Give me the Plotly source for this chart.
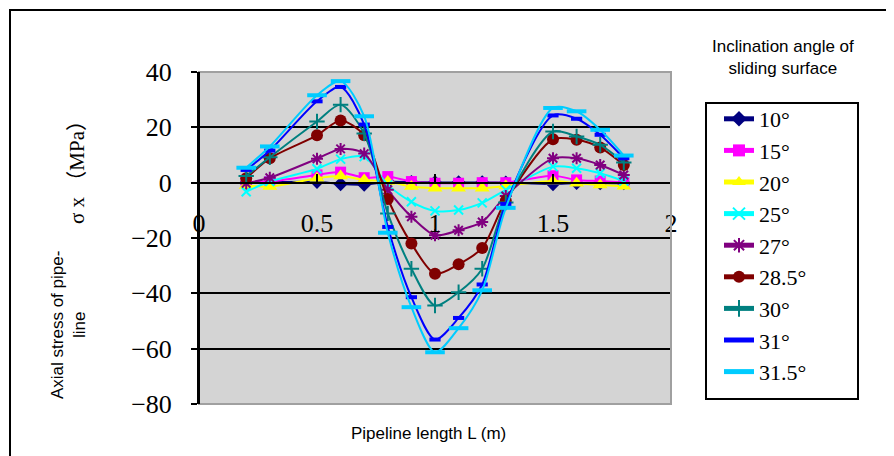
import plotly.graph_objects as go

# Pipeline length L (m)
x_vals = [0.2, 0.3, 0.5, 0.6, 0.7, 0.8, 0.9, 1.0, 1.1, 1.2, 1.3, 1.5, 1.6, 1.7, 1.8]

# Axial stress sigma_x (MPa) for each inclination angle
s10 = [0.0, 0.2, 0.3, -0.5, -0.7, 0.3, 0.2, 0.1, 0.1, 0.1, 0.0, -0.5, -0.1, -0.2, -0.2]
s15 = [0.2, 0.4, 2.8, 3.8, 1.8, 2.2, 0.4, -0.2, -0.2, 0.0, 0.0, 2.5, 1.0, 0.6, 0.1]
s20 = [-1.0, -1.4, 1.6, 2.4, 1.0, 0.4, -1.4, -2.0, -2.0, -2.0, -1.2, 0.6, -0.2, -0.8, -1.3]
s25 = [-3.3, 0.4, 5.0, 8.5, 9.4, -0.8, -6.9, -10.2, -9.9, -7.3, -2.6, 5.8, 5.2, 3.4, 0.6]
s27 = [-0.2, 1.8, 8.6, 12.2, 10.5, -2.6, -12.3, -19.0, -17.2, -14.2, -4.8, 8.8, 8.8, 6.4, 2.8]
s285 = [1.6, 8.8, 17.1, 22.5, 17.1, -5.9, -22.0, -32.9, -29.5, -23.6, -6.5, 15.7, 15.5, 12.7, 6.4]
s30 = [2.4, 9.2, 22.1, 28.2, 17.8, -11.1, -31.1, -44.4, -39.6, -31.1, -7.2, 18.5, 16.7, 13.7, 7.3]
s31 = [4.6, 11.6, 29.4, 34.6, 21.0, -16.0, -41.4, -56.7, -48.9, -36.8, -7.7, 24.3, 23.1, 17.3, 8.8]
s315 = [5.4, 13.1, 31.6, 36.7, 24.0, -18.1, -45.0, -61.3, -52.6, -38.9, -9.1, 27.0, 25.8, 19.1, 9.8]

series_names = ["10°", "15°", "20°", "25°", "27°", "28.5°", "30°", "31°", "31.5°"]
series_values = [s10, s15, s20, s25, s27, s285, s30, s31, s315]

y_ticks = [-80, -60, -40, -20, 0, 20, 40]
x_ticks = [0, 0.5, 1, 1.5, 2]
x_tick_text = ["0", "0.5", "1", "1.5", "2"]

styles = [
    dict(color="#000080", symbol="diamond", size=11, lw=0),
    dict(color="#FF00FF", symbol="square", size=11, lw=0),
    dict(color="#FFFF00", symbol="triangle-up", size=13, lw=0),
    dict(color="#00FFFF", symbol="x-thin-open", size=9, lw=2),
    dict(color="#800080", symbol="asterisk-open", size=10, lw=2),
    dict(color="#800000", symbol="circle", size=12, lw=0),
    dict(color="#008080", symbol="cross-thin-open", size=11, lw=2),
    dict(color="#0000FF", symbol="line-ew-open", size=8, lw=4),
    dict(color="#00CCFF", symbol="line-ew-open", size=14, lw=4),
]

serif = "Liberation Serif, 'Noto Sans CJK SC', serif"
sans = "Liberation Sans, Arial, sans-serif"

fig = go.Figure()
for name, vals, st in zip(series_names, series_values, styles):
    fig.add_trace(go.Scatter(
        x=x_vals, y=vals, name=name, mode="lines+markers",
        line=dict(color=st["color"], width=2, shape="spline", smoothing=0.8),
        marker=dict(symbol=st["symbol"], size=st["size"], color=st["color"],
                    line=dict(color=st["color"], width=st["lw"])),
    ))

# page offset (body margin) of the rendered html
OFF = 8
W, H = 894, 456
L, T = 199 - OFF, 72 - OFF
R = W - (671 - OFF)
B = H - (404 - OFF)
pw, ph = W - L - R, H - T - B

def px(xp):
    return (xp - OFF - L) / pw

def py(yp):
    return (H - B - (yp - OFF)) / ph

fig.update_layout(
    width=W, height=H,
    margin=dict(l=L, r=R, t=T, b=B, autoexpand=False),
    paper_bgcolor="white",
    plot_bgcolor="#D4D4D4",
    showlegend=True,
    legend=dict(
        x=px(719), y=py(98), xanchor="left", yanchor="top",
        bgcolor="rgba(0,0,0,0)", borderwidth=0,
        font=dict(family=serif, size=22, color="black"),
        itemsizing="constant", tracegroupgap=0,
    ),
    xaxis=dict(
        range=[0, 2], anchor="free", position=2 / 3,
        tickvals=x_ticks, ticktext=x_tick_text,
        showgrid=False, zeroline=False,
        showline=True, linecolor="black", linewidth=2,
        ticks="inside", ticklen=8, tickcolor="black", tickwidth=1.5,
        tickfont=dict(family=serif, size=26, color="black"),
        ticklabelstandoff=17,
    ),
    yaxis=dict(
        range=[-80, 40], tickvals=y_ticks,
        showgrid=True, gridcolor="black", gridwidth=1.5,
        zeroline=False,
        showline=True, linecolor="black", linewidth=2,
        ticks="outside", ticklen=6, tickcolor="black", tickwidth=1.5,
        tickfont=dict(family=serif, size=26, color="black"),
        ticklabelstandoff=14,
    ),
    shapes=[
        dict(type="rect", xref="paper", yref="paper", x0=0, x1=1, y0=0, y1=1,
             line=dict(color="#A0A0A0", width=2), layer="above"),
        dict(type="line", xref="paper", yref="paper", x0=0, x1=0, y0=0, y1=1,
             line=dict(color="black", width=2), layer="above"),
        dict(type="rect", xref="paper", yref="paper",
             x0=px(10), x1=px(892.5), y0=py(475), y1=py(10),
             line=dict(color="black", width=2), layer="below"),
        dict(type="rect", xref="paper", yref="paper",
             x0=px(706), x1=px(858), y0=py(399), y1=py(103),
             fillcolor="white", line=dict(color="black", width=2), layer="above"),
    ],
    annotations=[
        dict(text="σ x （MPa）", xref="paper", yref="paper", x=px(77), y=py(167),
             textangle=-90, showarrow=False, xanchor="center", yanchor="middle",
             font=dict(family=serif, size=21, color="black")),
        dict(text="Axial stress of pipe-<br>line", xref="paper", yref="paper",
             x=px(68), y=py(325), textangle=-90, showarrow=False,
             xanchor="center", yanchor="middle", align="center",
             font=dict(family=sans, size=17, color="black")),
        dict(text="Pipeline length L (m)", xref="paper", yref="paper",
             x=px(428), y=py(433), showarrow=False,
             xanchor="center", yanchor="middle",
             font=dict(family=sans, size=17, color="black")),
        dict(text="Inclination angle of<br>sliding surface", xref="paper", yref="paper",
             x=px(783), y=py(57), showarrow=False, align="center",
             xanchor="center", yanchor="middle",
             font=dict(family=sans, size=17, color="black")),
    ],
)

fig.write_html("out.html")
